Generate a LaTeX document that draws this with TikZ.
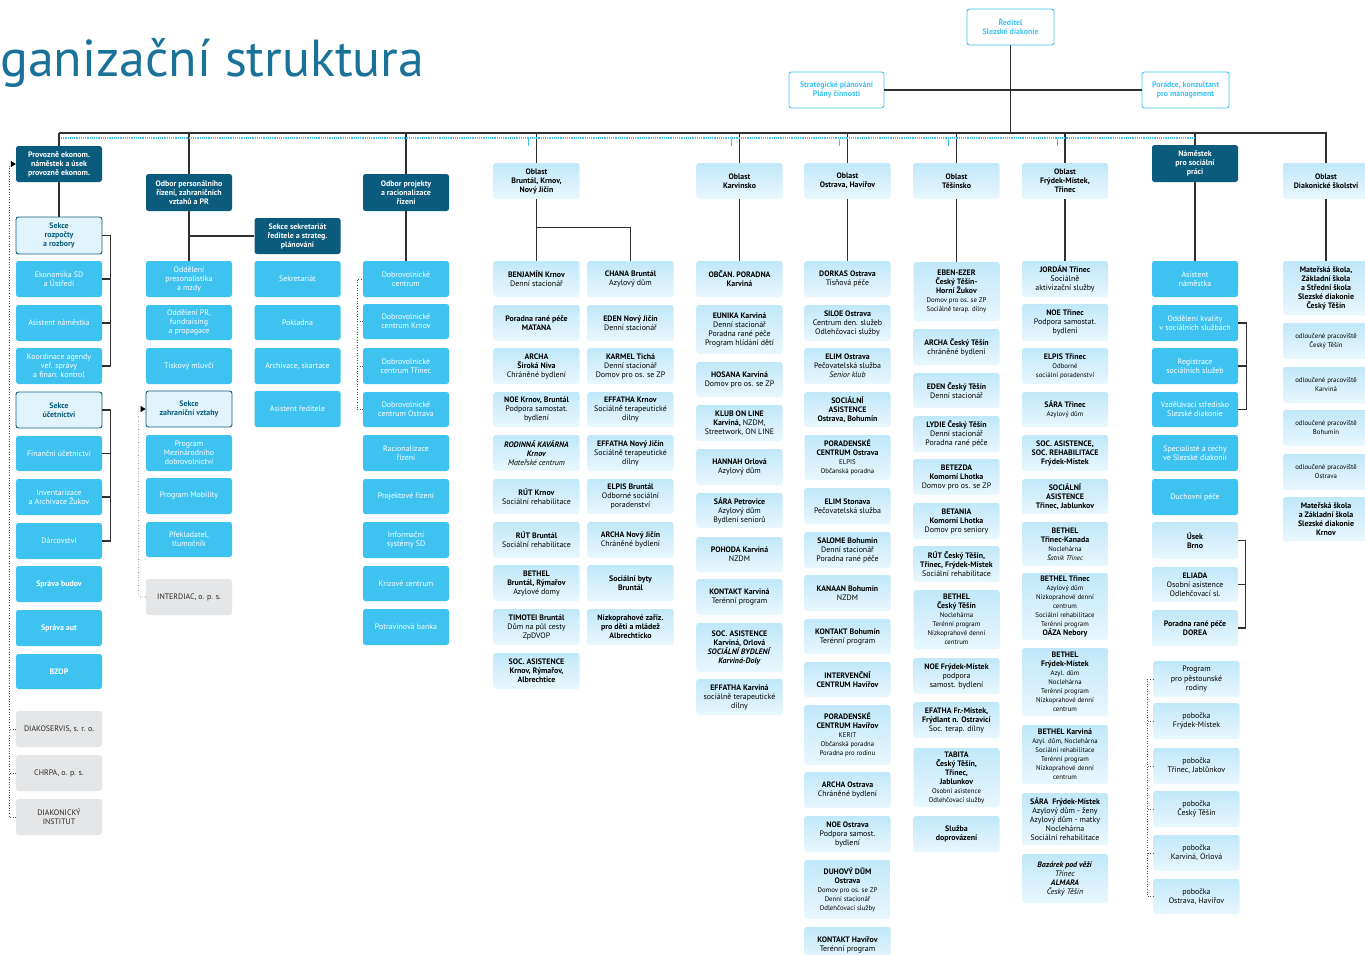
\documentclass[tikz,border=0pt]{standalone}
\usepackage{fontspec}
\setmainfont{PT Sans}
\usetikzlibrary{arrows.meta}
\definecolor{dteal}{HTML}{0B5B7C}
\definecolor{cyanc}{HTML}{3EC3F1}
\definecolor{sekf}{HTML}{E1F4FC}
\definecolor{gtop}{HTML}{C0E8FA}
\definecolor{gbot}{HTML}{E9F7FD}
\definecolor{grayf}{HTML}{E5E6E7}
\definecolor{linec}{HTML}{303030}
\definecolor{titlec}{HTML}{1B7299}
\newcommand\fsz{\fontsize{7.9}{9}\selectfont}
\newcommand\smtxt{\fontsize{6.8}{8}\selectfont}
\newcommand\mybox[6]{\node[#1, minimum height={#5-#4}] (#2) at (#3,{(#4+#5)/2}) {#6};}
\begin{document}
\begin{tikzpicture}[x=1pt,y=-1pt,
  box/.style={rounded corners=2.5pt, minimum width=86pt, inner sep=1pt, align=center, font=\fsz},
  dark/.style={box, fill=dteal, text=white, font=\fsz\bfseries},
  sek/.style={box, fill=sekf, draw=dteal, line width=0.9pt, text=dteal, font=\fsz\bfseries},
  cy/.style={box, fill=cyanc, text=white},
  cyb/.style={cy, font=\fsz\bfseries},
  grad/.style={box, top color=gtop, bottom color=gbot, text=black},
  gradb/.style={grad, font=\fsz\bfseries},
  grayb/.style={box, fill=grayf, text=black!85},
  topb/.style={box, fill=white, draw=cyanc, line width=0.9pt, text=cyanc, font=\fsz\bfseries},
  ln/.style={draw=linec, line width=1.1pt},
  dotl/.style={draw=black!70, line width=0.6pt, dotted},
  cydot/.style={draw=cyanc, line width=1.2pt, densely dotted},
  cytick/.style={draw=cyanc, line width=0.9pt},
  tip/.style={-{Triangle[length=5pt,width=6pt]}}
]
\useasboundingbox (0,0) rectangle (1365,954);
\fill[white] (0,0) rectangle (1365,954);

\node[anchor=base west, inner sep=0pt, text=titlec, font=\fontsize{52}{52}\selectfont] (title) at (0,76) {ganizační struktura};

% top
\mybox{topb, minimum width=87pt}{red}{1010.5}{9}{45}{Ředitel\\Slezské diakonie}
\mybox{topb, minimum width=95pt}{strat}{836.5}{72}{108}{Strategické plánování\\Plány činnosti}
\mybox{topb, minimum width=87pt}{porad}{1185.5}{72}{108}{Poradce, konzultant\\pro management}
\coordinate (busL) at (59,133);
\coordinate (busR) at (1326,133);
\coordinate (dotL) at (61,138);

% column A
\mybox{dark}{prov}{59}{146}{182}{Provozně ekonom.\\náměstek a úsek\\provozně ekonom.}
\mybox{sek}{sr}{59}{217}{254}{Sekce\\rozpočty\\a rozbory}
\mybox{cy}{ekon}{59}{261}{297}{Ekonomika SD\\a Ústředí}
\mybox{cy}{asA}{59}{305}{341}{Asistent náměstka}
\mybox{cy}{koord}{59}{348}{384}{Koordinace agendy\\veř. správy\\a finan. kontrol}
\mybox{sek}{su}{59}{392}{428}{Sekce\\účetnictví}
\mybox{cy}{fin}{59}{436}{471}{Finanční účetnictví}
\mybox{cy}{inv}{59}{479}{515}{Inventarizace\\a Archivace Žukov}
\mybox{cy}{darc}{59}{523}{559}{Dárcovství}
\mybox{cyb}{spb}{59}{566}{602}{Správa budov}
\mybox{cyb}{spa}{59}{610}{646}{Správa aut}
\mybox{cyb}{bzop}{59}{654}{689}{BZOP}
\mybox{grayb}{dias}{59}{711}{747}{DIAKOSERVIS, s. r. o.}
\mybox{grayb}{chrpa}{59}{755}{791}{CHRPA, o. p. s.}
\mybox{grayb}{dinst}{59}{799}{835}{DIAKONICKÝ\\INSTITUT}

% column B
\mybox{dark}{odbP}{189}{174}{211}{Odbor personálního\\řízení, zahraničních\\vztahů a PR}
\mybox{cy}{opm}{189}{261}{297}{Oddělení\\presonalistika\\a mzdy}
\mybox{cy}{opr}{189}{305}{340}{Oddělení PR,\\fundraising\\a propagace}
\mybox{cy}{tisk}{189}{348}{384}{Tiskový mluvčí}
\mybox{sek}{szv}{189}{391}{427}{Sekce\\zahraniční vztahy}
\mybox{cy}{pmd}{189}{435}{471}{Program\\Mezinárodního\\dobrovolnictví}
\mybox{cy}{pmob}{189}{478}{514}{Program Mobility}
\mybox{cy}{prek}{189}{522}{557}{Překladatel,\\tlumočník}
\mybox{grayb}{interd}{189}{579}{615}{INTERDIAC, o. p. s.}

% column B2
\mybox{dark}{ssek}{297.5}{218}{254}{Sekce sekretariát\\ředitele a strateg.\\plánování}
\mybox{cy}{sekr}{297.5}{261}{297}{Sekretariát}
\mybox{cy}{pokl}{297.5}{305}{340}{Pokladna}
\mybox{cy}{archs}{297.5}{348}{384}{Archivace, skartace}
\mybox{cy}{asr}{297.5}{391}{427}{Asistent ředitele}

% column C
\mybox{dark}{odbR}{406}{174}{211}{Odbor projekty\\a racionalizace\\řízení}
\mybox{cy}{dc1}{406}{261}{297}{Dobrovolnické\\centrum}
\mybox{cy}{dc2}{406}{304}{339}{Dobrovolnické\\centrum Krnov}
\mybox{cy}{dc3}{406}{348}{384}{Dobrovolnické\\centrum Třinec}
\mybox{cy}{dc4}{406}{392}{427}{Dobrovolnické\\centrum Ostrava}
\mybox{cy}{rac}{406}{435}{471}{Racionalizace\\řízení}
\mybox{cy}{proj}{406}{479}{514}{Projektové řízení}
\mybox{cy}{infs}{406}{522}{558}{Informační\\systémy SD}
\mybox{cy}{kriz}{406}{566}{601}{Krizové centrum}
\mybox{cy}{potr}{406}{609}{645}{Potravinová banka}

% column D
\mybox{gradb}{oblD}{536.5}{163}{199}{Oblast\\Bruntál, Krnov,\\Nový Jičín}
\mybox{grad}{d1}{536.5}{261}{297}{\textbf{BENJAMÍN Krnov}\\Denní stacionář}
\mybox{gradb}{d2}{536.5}{305}{341}{Poradna rané péče\\MATANA}
\mybox{grad}{d3}{536.5}{348}{384}{\textbf{ARCHA}\\\textbf{Široká Niva}\\Chráněné bydlení}
\mybox{grad}{d4}{536.5}{392}{427}{\textbf{NOE Krnov, Bruntál}\\Podpora samostat.\\bydlení}
\mybox{grad}{d5}{536.5}{435}{471}{\textbf{\textit{RODINNÁ KAVÁRNA}}\\\textbf{\textit{Krnov}}\\\textit{Mateřské centrum}}
\mybox{grad}{d6}{536.5}{479}{514}{\textbf{RÚT Krnov}\\Sociální rehabilitace}
\mybox{grad}{d7}{536.5}{522}{558}{\textbf{RÚT Bruntál}\\Sociální rehabilitace}
\mybox{grad}{d8}{536.5}{565}{601}{\textbf{BETHEL}\\\textbf{Bruntál, Rýmařov}\\Azylové domy}
\mybox{grad}{d9}{536.5}{609}{645}{\textbf{TIMOTEI Bruntál}\\Dům na půl cesty\\ZpDVOP}
\mybox{gradb}{d10}{536.5}{653}{689}{SOC. ASISTENCE\\Krnov, Rýmařov,\\Albrechtice}

% column D2
\mybox{grad}{e1}{630.5}{261}{297}{\textbf{CHANA Bruntál}\\Azylový dům}
\mybox{grad}{e2}{630.5}{305}{341}{\textbf{EDEN Nový Jičín}\\Denní stacionář}
\mybox{grad}{e3}{630.5}{348}{384}{\textbf{KARMEL Tichá}\\Denní stacionář\\Domov pro os. se ZP}
\mybox{grad}{e4}{630.5}{392}{427}{\textbf{EFFATHA Krnov}\\Sociálně terapeutické\\dílny}
\mybox{grad}{e5}{630.5}{435}{471}{\textbf{EFFATHA Nový Jičín}\\Sociálně terapeutické\\dílny}
\mybox{grad}{e6}{630.5}{479}{514}{\textbf{ELPIS Bruntál}\\Odborné sociální\\poradenství}
\mybox{grad}{e7}{630.5}{522}{558}{\textbf{ARCHA Nový Jičín}\\Chráněné bydlení}
\mybox{gradb}{e8}{630.5}{565}{601}{Sociální byty\\Bruntál}
\mybox{gradb}{e9}{630.5}{609}{645}{Nízkoprahové zaříz.\\pro děti a mládež\\Albrechticko}

% column E
\mybox{gradb}{oblE}{739.5}{163}{199}{Oblast\\Karvinsko}
\mybox{gradb}{k1}{739.5}{261}{297}{OBČAN. PORADNA\\Karviná}
\mybox{grad}{k2}{739.5}{305}{354}{\textbf{EUNIKA Karviná}\\Denní stacionář\\Poradna rané péče\\Program hlídání dětí}
\mybox{grad}{k3}{739.5}{362}{397}{\textbf{HOSANA Karviná}\\Domov pro os. se ZP}
\mybox{grad}{k4}{739.5}{405}{441}{\textbf{KLUB ON LINE}\\\textbf{Karviná,} NZDM,\\Streetwork, ON LINE}
\mybox{grad}{k5}{739.5}{449}{485}{\textbf{HANNAH Orlová}\\Azylový dům}
\mybox{grad}{k6}{739.5}{493}{528}{\textbf{SÁRA Petrovice}\\Azylový dům\\Bydlení seniorů}
\mybox{grad}{k7}{739.5}{537}{572}{\textbf{POHODA Karviná}\\NZDM}
\mybox{grad}{k8}{739.5}{579}{615}{\textbf{KONTAKT Karviná}\\Terénní program}
\mybox{gradb}{k9}{739.5}{623}{672}{SOC. ASISTENCE\\Karviná, Orlová\\\textit{SOCIÁLNÍ BYDLENÍ}\\\textit{Karviná-Doly}}
\mybox{grad}{k10}{739.5}{679}{715}{\textbf{EFFATHA Karviná}\\sociálně terapeutické\\dílny}

% column F
\mybox{gradb}{oblF}{847.5}{163}{199}{Oblast\\Ostrava, Havířov}
\mybox{grad}{o1}{847.5}{261}{297}{\textbf{DORKAS Ostrava}\\Tísňová péče}
\mybox{grad}{o2}{847.5}{305}{341}{\textbf{SILOE Ostrava}\\Centrum den. služeb\\Odlehčovací služby}
\mybox{grad}{o3}{847.5}{348}{384}{\textbf{ELIM Ostrava}\\Pečovatelská služba\\\textit{Senior klub}}
\mybox{gradb}{o4}{847.5}{392}{427}{SOCIÁLNÍ\\ASISTENCE\\Ostrava, Bohumín}
\mybox{grad}{o5}{847.5}{435}{480}{\textbf{PORADENSKÉ}\\\textbf{CENTRUM Ostrava}\\{\smtxt ELPIS}\\{\smtxt Občanská poradna}}
\mybox{grad}{o6}{847.5}{488}{524}{\textbf{ELIM Stonava}\\Pečovatelská služba}
\mybox{grad}{o7}{847.5}{532}{568}{\textbf{SALOME Bohumín}\\Denní stacionář\\Poradna rané péče}
\mybox{grad}{o8}{847.5}{575}{611}{\textbf{KANAAN Bohumín}\\NZDM}
\mybox{grad}{o9}{847.5}{619}{654}{\textbf{KONTAKT Bohumín}\\Terénní program}
\mybox{gradb}{o10}{847.5}{662}{697}{INTERVENČNÍ\\CENTRUM Havířov}
\mybox{grad}{o11}{847.5}{705}{765}{\textbf{PORADENSKÉ}\\\textbf{CENTRUM Havířov}\\{\smtxt KERIT}\\{\smtxt Občanská poradna}\\{\smtxt Poradna pro rodinu}}
\mybox{grad}{o12}{847.5}{772}{808}{\textbf{ARCHA Ostrava}\\Chráněné bydlení}
\mybox{grad}{o13}{847.5}{816}{852}{\textbf{NOE Ostrava}\\Podpora samost.\\bydlení}
\mybox{grad}{o14}{847.5}{860}{919}{\textbf{DUHOVÝ DŮM}\\\textbf{Ostrava}\\{\smtxt Domov pro os. se ZP}\\{\smtxt Denní stacionář}\\{\smtxt Odlehčovací služby}}
\mybox{grad}{o15}{847.5}{927}{963}{\textbf{KONTAKT Havířov}\\Terénní program}

% column G
\mybox{gradb}{oblG}{956.5}{163}{199}{Oblast\\Těšínsko}
\mybox{grad}{t1}{956.5}{262}{321}{\textbf{EBEN-EZER}\\\textbf{Český Těšín-}\\\textbf{Horní Žukov}\\{\smtxt Domov pro os. se ZP}\\{\smtxt Sociálně terap. dílny}}
\mybox{grad}{t2}{956.5}{329}{365}{\textbf{ARCHA Český Těšín}\\chráněné bydlení}
\mybox{grad}{t3}{956.5}{373}{408}{\textbf{EDEN Český Těšín}\\Denní stacionář}
\mybox{grad}{t4}{956.5}{416}{452}{\textbf{LYDIE Český Těšín}\\Denní stacionář\\Poradna rané péče}
\mybox{grad}{t5}{956.5}{459}{495}{\textbf{BETEZDA}\\\textbf{Komorní Lhotka}\\Domov pro os. se ZP}
\mybox{grad}{t6}{956.5}{503}{539}{\textbf{BETANIA}\\\textbf{Komorní Lhotka}\\Domov pro seniory}
\mybox{grad}{t7}{956.5}{546}{582}{\textbf{RÚT Český Těšín,}\\\textbf{Třinec, Frýdek-Místek}\\Sociální rehabilitace}
\mybox{grad}{t8}{956.5}{590}{649}{\textbf{BETHEL}\\\textbf{Český Těšín}\\{\smtxt Noclehárna}\\{\smtxt Terénní program}\\{\smtxt Nízkoprahové denní}\\{\smtxt centrum}}
\mybox{grad}{t9}{956.5}{658}{694}{\textbf{NOE Frýdek-Místek}\\podpora\\samost. bydlení}
\mybox{grad}{t10}{956.5}{702}{738}{\textbf{EFATHA Fr.-Místek,}\\\textbf{Frýdlant n. Ostravicí}\\Soc. terap. dílny}
\mybox{grad}{t11}{956.5}{748}{807}{\textbf{TABITA}\\\textbf{Český Těšín,}\\\textbf{Třinec,}\\\textbf{Jablunkov}\\{\smtxt Osobní asistence}\\{\smtxt Odlehčovací služby}}
\mybox{gradb}{t12}{956.5}{816}{852}{Služba\\doprovázení}

% column H
\mybox{gradb}{oblH}{1065}{163}{199}{Oblast\\Frýdek-Místek,\\Třinec}
\mybox{grad}{h1}{1065}{261}{297}{\textbf{JORDÁN Třinec}\\Sociálně\\aktivizační služby}
\mybox{grad}{h2}{1065}{304}{341}{\textbf{NOE Třinec}\\Podpora samostat.\\bydlení}
\mybox{grad}{h3}{1065}{348}{384}{\textbf{ELPIS Třinec}\\{\smtxt Odborné}\\{\smtxt sociální poradenství}}
\mybox{grad}{h4}{1065}{392}{427}{\textbf{SÁRA Třinec}\\{\smtxt Azylový dům}}
\mybox{gradb}{h5}{1065}{435}{471}{SOC. ASISTENCE,\\SOC. REHABILITACE\\Frýdek-Místek}
\mybox{gradb}{h6}{1065}{479}{514}{SOCIÁLNÍ\\ASISTENCE\\Třinec, Jablunkov}
\mybox{grad}{h7}{1065}{522}{566}{\textbf{BETHEL}\\\textbf{Třinec-Kanada}\\{\smtxt Noclehárna}\\{\smtxt\itshape Šatník Třinec}}
\mybox{grad}{h8}{1065}{573}{640}{\textbf{BETHEL Třinec}\\{\smtxt Azylový dům}\\{\smtxt Nízkoprahové denní}\\{\smtxt centrum}\\{\smtxt Sociální rehabilitace}\\{\smtxt Terénní program}\\\textbf{OÁZA Nebory}}
\mybox{grad}{h9}{1065}{648}{716}{\textbf{BETHEL}\\\textbf{Frýdek-Místek}\\{\smtxt Azyl. dům}\\{\smtxt Noclehárna}\\{\smtxt Terénní program}\\{\smtxt Nízkoprahové denní}\\{\smtxt centrum}}
\mybox{grad}{h10}{1065}{725}{784}{\textbf{BETHEL Karviná}\\{\smtxt Azyl. dům, Noclehárna}\\{\smtxt Sociální rehabilitace}\\{\smtxt Terénní program}\\{\smtxt Nízkoprahové denní}\\{\smtxt centrum}}
\mybox{grad}{h11}{1065}{793}{845}{\textbf{SÁRA\ \ Frýdek-Místek}\\Azylový dům - ženy\\Azylový dům - matky\\Noclehárna\\Sociální rehabilitace}
\mybox{grad}{h12}{1065}{854}{903}{\textbf{\textit{Bazárek pod věží}}\\\textit{Třinec}\\\textbf{\textit{ALMARA}}\\\textit{Český Těšín}}

% column I
\mybox{dark}{nsp}{1195}{145}{182}{Náměstek\\pro sociální\\práci}
\mybox{cy}{i1}{1195}{261}{297}{Asistent\\náměstka}
\mybox{cy}{i2}{1195}{305}{341}{Oddělení kvality\\v sociálních službách}
\mybox{cy}{i3}{1195}{348}{384}{Registrace\\sociálních služeb}
\mybox{cy}{i4}{1195}{392}{427}{Vzdělávací středisko\\Slezské diakonie}
\mybox{cy}{i5}{1195}{435}{471}{Specialisté a cechy\\ve Slezské diakonii}
\mybox{cy}{i6}{1195}{479}{515}{Duchovní péče}
\mybox{gradb}{i7}{1195}{522}{559}{Úsek\\Brno}
\mybox{grad}{i8}{1195}{567}{602}{\textbf{ELIADA}\\Osobní asistence\\Odlehčovací sl.}
\mybox{gradb}{i9}{1195}{610}{646}{Poradna rané péče\\DOREA}
\mybox{grad}{p1}{1196.5}{661}{697}{Program\\pro pěstounské\\rodiny}
\mybox{grad}{p2}{1196.5}{703}{739}{pobočka\\Frýdek-Místek}
\mybox{grad}{p3}{1196.5}{748}{784}{pobočka\\Třinec, Jablůnkov}
\mybox{grad}{p4}{1196.5}{791}{827}{pobočka\\Český Těšín}
\mybox{grad}{p5}{1196.5}{835}{871}{pobočka\\Karviná, Orlová}
\mybox{grad}{p6}{1196.5}{879}{914}{pobočka\\Ostrava, Havířov}

% column J
\mybox{gradb}{oblJ}{1326}{163}{199}{Oblast\\Diakonické školství}
\mybox{gradb}{j1}{1326}{261}{315}{Mateřská škola,\\Základní škola\\a Střední škola\\Slezské diakonie\\Český Těšín}
\mybox{grad}{j2}{1326}{323}{359}{{\smtxt odloučené pracoviště}\\{\smtxt Český Těšín}}
\mybox{grad}{j3}{1326}{367}{403}{{\smtxt odloučené pracoviště}\\{\smtxt Karviná}}
\mybox{grad}{j4}{1326}{410}{446}{{\smtxt odloučené pracoviště}\\{\smtxt Bohumín}}
\mybox{grad}{j5}{1326}{454}{490}{{\smtxt odloučené pracoviště}\\{\smtxt Ostrava}}
\mybox{gradb}{j6}{1326}{497}{541}{Mateřská škola\\a Základní škola\\Slezské diakonie\\Krnov}

% ---------- connectors ----------
\draw[ln] (red.south) -- (red.south |- busL);
\draw[ln] (strat.east) -- (porad.west);
\draw[ln] (busL) -- (busR) -- (oblJ.north);
\draw[ln] (busL) -- (prov.north);
\draw[ln] (prov.south) -- (sr.north);
\draw[ln] (sr.east) -- ++(8,0) |- (koord.east);
\draw[ln] (ekon.east) -- ++(8,0);
\draw[ln] (asA.east) -- ++(8,0);
\draw[ln] (su.east) -- ++(8,0) |- (darc.east);
\draw[ln] (fin.east) -- ++(8,0);
\draw[ln] (inv.east) -- ++(8,0);

\draw[ln] (odbP.north |- busL) -- (odbP.north);
\draw[ln] (odbP.south) -- (opm.north);
\draw[ln] (odbP.south |- ssek.west) -- (ssek.west);
\draw[ln] (odbR.north |- busL) -- (odbR.north);
\draw[ln] (odbR.south) -- (dc1.north);

\draw[ln] (oblD.north |- busL) -- (oblD.north);
\draw[ln] (oblD.south) -- (d1.north);
\draw[ln] ([yshift=-28pt]oblD.south) -| (e1.north);
\foreach \a/\b in {oblE/k1, oblF/o1, oblG/t1, oblH/h1, nsp/i1, oblJ/j1}{
  \draw[ln] (\a.south) -- (\b.north);
}
\foreach \a in {oblE, oblF, oblG, oblH, nsp}{
  \draw[ln] (\a.north |- busL) -- (\a.north);
}
\draw[ln] (i2.east) -- ++(8,0) |- (i4.east);
\draw[ln] (i3.east) -- ++(8,0);
\draw[ln] (i7.east) -- ++(7,0) |- (i9.east);
\draw[ln] (i8.east) -- ++(7,0);

% dotted relations
\draw[cydot] (dotL) -- (dotL -| nsp.north);
\foreach \a in {oblD, oblE, oblF, oblG, oblH}{
  \draw[cytick] ([xshift=-8pt]\a.north |- dotL) ++(0,1) -- ++(0,7);
}
\draw[dotl] (dinst.west) -- ++(-7,0) -- ([xshift=-7pt]prov.west);
\draw[dotl] (dias.west) -- ++(-7,0);
\draw[dotl] (chrpa.west) -- ++(-7,0);
\draw[tip, black] ([xshift=-4pt]prov.west) -- (prov.west);
\draw[dotl] (interd.west) -- ++(-7,0) -- ([xshift=-7pt]szv.west);
\draw[tip, black] ([xshift=-4pt]szv.west) -- (szv.west);
\draw[dotl] (dc4.west) -- ++(-6,0) |- (dc1.west);
\draw[dotl] (dc2.west) -- ++(-6,0);
\draw[dotl] (dc3.west) -- ++(-6,0);
\draw[dotl] (p6.west) -- ++(-6,0) |- (p1.west);
\foreach \a in {p2,p3,p4,p5}{ \draw[dotl] (\a.west) -- ++(-6,0); }
\end{tikzpicture}
\end{document}
